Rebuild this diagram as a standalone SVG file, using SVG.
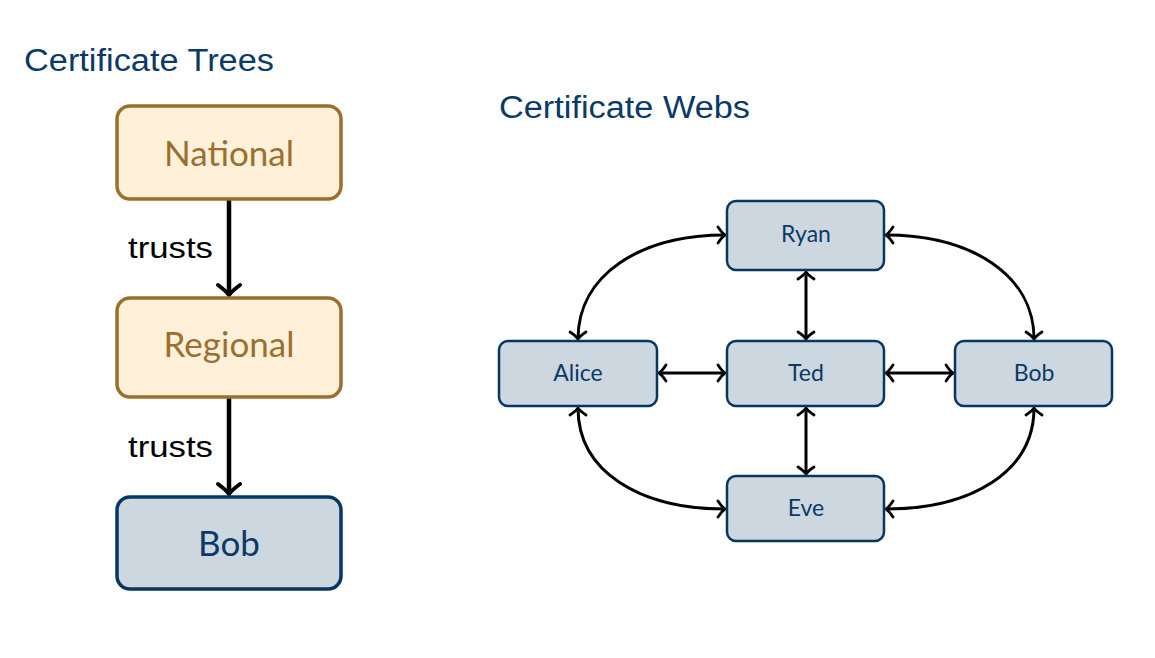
<svg xmlns="http://www.w3.org/2000/svg" width="1155" height="658" viewBox="0 0 1155 658">
<style>
.title{font-family:"Liberation Sans",Arial,sans-serif;font-size:31px;fill:#0B3A66}
.tree-b{fill:#FFF0DA;stroke:#9B6F2E;stroke-width:3.5}
.tree-t{font-family:"Lato","Liberation Sans",sans-serif;font-size:35px;fill:#9B6F2E;text-anchor:middle}
.tree-bob{fill:#CDD7E0;stroke:#063763;stroke-width:3.5}
.tree-bobt{font-family:"Lato","Liberation Sans",sans-serif;font-size:35px;fill:#0B3A66;text-anchor:middle}
.web-b{fill:#CDD7E0;stroke:#063763;stroke-width:2.5}
.web-t{font-family:"Lato","Liberation Sans",sans-serif;font-size:23px;fill:#0B3A66;text-anchor:middle}
.lbl{font-family:"Liberation Sans",Arial,sans-serif;font-size:30px;fill:#000}
.thick{stroke:#000;stroke-width:4.5;fill:none;marker-end:url(#big)}
.thin{stroke:#000;stroke-width:3;fill:none;marker-start:url(#sm);marker-end:url(#sm)}
</style>
<defs>
<marker id="big" markerUnits="userSpaceOnUse" viewBox="-14 -14 18 28" refX="0" refY="0" markerWidth="18" markerHeight="28" orient="auto" overflow="visible">
<path d="M-10,-11 Q-4,-3 0,0 Q-4,3 -10,11" fill="none" stroke="#000" stroke-width="4" stroke-linecap="round" stroke-linejoin="round"/>
</marker>
<marker id="sm" markerUnits="userSpaceOnUse" viewBox="-12 -12 16 24" refX="0" refY="0" markerWidth="16" markerHeight="24" orient="auto-start-reverse" overflow="visible">
<path d="M-7,-8 Q-3,-2 0,0 Q-3,2 -7,8" fill="none" stroke="#000" stroke-width="2.8" stroke-linecap="round" stroke-linejoin="round"/>
</marker>
</defs>
<rect width="1155" height="658" fill="#fff"/>
<text class="title" x="24" y="71" textLength="250" lengthAdjust="spacingAndGlyphs">Certificate Trees</text>
<text class="title" x="499" y="118" textLength="251" lengthAdjust="spacingAndGlyphs">Certificate Webs</text>
<g id="connectors">
<line class="thick" x1="229" y1="199" x2="229" y2="295"/>
<line class="thick" x1="229" y1="397" x2="229" y2="494"/>
<path class="thin" d="M578,339 C578,275 640,235 725,235"/>
<path class="thin" d="M886,235 C971,235 1034,275 1034,339"/>
<path class="thin" d="M578,408 C578,472 640,509 725,509"/>
<path class="thin" d="M886,509 C971,509 1034,472 1034,408"/>
<line class="thin" x1="659" y1="373" x2="725" y2="373"/>
<line class="thin" x1="886" y1="373" x2="953" y2="373"/>
<line class="thin" x1="806" y1="272" x2="806" y2="339"/>
<line class="thin" x1="806" y1="408" x2="806" y2="474"/>
</g>
<text class="lbl" x="128" y="258" textLength="85" lengthAdjust="spacingAndGlyphs">trusts</text>
<text class="lbl" x="128" y="457" textLength="85" lengthAdjust="spacingAndGlyphs">trusts</text>
<g id="national"><rect class="tree-b" x="117" y="106" width="224" height="93" rx="13"/><text class="tree-t" x="229" y="166">National</text></g>
<g id="regional"><rect class="tree-b" x="117" y="298" width="224" height="99" rx="13"/><text class="tree-t" x="229" y="357">Regional</text></g>
<g id="bob-tree"><rect class="tree-bob" x="117" y="497" width="224" height="92" rx="13"/><text class="tree-bobt" x="229" y="556">Bob</text></g>
<g id="ryan"><rect class="web-b" x="727" y="201" width="157" height="69" rx="9"/><text class="web-t" x="806" y="242">Ryan</text></g>
<g id="alice"><rect class="web-b" x="499" y="341" width="158" height="65" rx="9"/><text class="web-t" x="578" y="381">Alice</text></g>
<g id="ted"><rect class="web-b" x="727" y="341" width="157" height="65" rx="9"/><text class="web-t" x="806" y="381">Ted</text></g>
<g id="bob-web"><rect class="web-b" x="955" y="341" width="157" height="65" rx="9"/><text class="web-t" x="1034" y="381">Bob</text></g>
<g id="eve"><rect class="web-b" x="727" y="476" width="157" height="65" rx="9"/><text class="web-t" x="806" y="516">Eve</text></g>
</svg>
